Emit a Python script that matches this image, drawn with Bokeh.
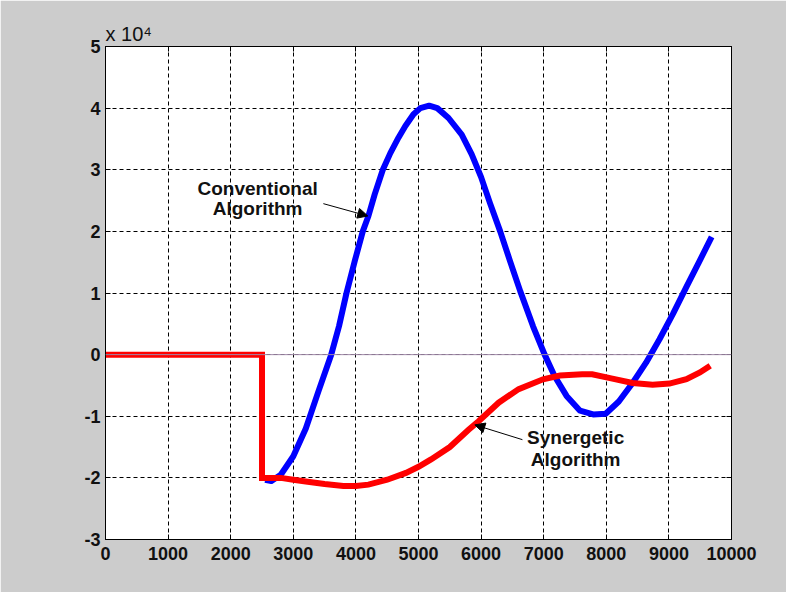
from bokeh.plotting import figure
from bokeh.models import Label, Arrow, NormalHead, LinearAxis, Range1d, FixedTicker, CustomJSTickFormatter, Span, Title
from bokeh.embed import file_html
from bokeh.resources import INLINE

# Data (values in units of 1e4)
blue_x = [2550, 2650, 2800, 3000, 3200, 3400, 3600, 3730, 3850, 3985, 4110, 4200, 4300, 4430,
          4550, 4680, 4790, 4920, 5030, 5170, 5300, 5480, 5690, 5850, 6000, 6145, 6305, 6465,
          6625, 6830, 7015, 7175, 7365, 7580, 7790, 7990, 8200, 8420, 8635, 8850, 9065, 9280,
          9495, 9683]
blue_y = [-2.03, -2.05, -1.95, -1.65, -1.2, -0.6, -0.02, 0.46, 1.0, 1.53, 2.0, 2.25, 2.6, 3.0,
          3.27, 3.52, 3.71, 3.9, 4.0, 4.04, 4.0, 3.84, 3.57, 3.25, 2.88, 2.45, 2.0, 1.51,
          1.03, 0.46, 0.0, -0.35, -0.67, -0.91, -0.97, -0.96, -0.76, -0.46, -0.13, 0.25, 0.66, 1.1,
          1.53, 1.91]

red_x = [0, 2500, 2500, 2800, 3000, 3200, 3500, 3800, 4000, 4200, 4500, 4800, 5000, 5200, 5500,
         5800, 5960, 6280, 6600, 6990, 7260, 7615, 7775, 8097, 8420, 8740, 9010, 9280, 9495, 9660]
red_y = [0, 0, -2.0, -2.0, -2.03, -2.06, -2.1, -2.13, -2.13, -2.11, -2.03, -1.92, -1.82, -1.7,
         -1.5, -1.22, -1.08, -0.78, -0.56, -0.40, -0.34, -0.32, -0.32, -0.39, -0.46, -0.49, -0.47,
         -0.40, -0.29, -0.18]

x_ticks = [0, 1000, 2000, 3000, 4000, 5000, 6000, 7000, 8000, 9000, 10000]
y_ticks = [-3, -2, -1, 0, 1, 2, 3, 4, 5]

FONT = "Liberation Sans"
BG = "#cccccc"
TXT = "#111111"

W, H = 786, 592
FL, FT, FW, FH = 105, 46, 626, 493

p = figure(width=W, height=H, output_backend="svg", toolbar_location=None,
           x_range=Range1d(0, 10000), y_range=Range1d(-3, 5),
           min_border_left=FL, min_border_top=FT, min_border_right=W - FL - FW,
           min_border_bottom=H - FT - FH)
p.border_fill_color = BG
p.background_fill_color = "white"
p.outline_line_color = "black"
p.outline_line_width = 1

# exponent shown as the title, at the top-left corner of the axes
p.title = Title(text="x 10\u2074", align="left", text_font=FONT, text_font_size="20px",
                text_font_style="normal", text_color=TXT, standoff=3)

fmt = CustomJSTickFormatter(code="return tick.toString();")
for ax in (p.xaxis[0], p.yaxis[0]):
    ax.major_tick_in = 5
    ax.major_tick_out = 0
    ax.minor_tick_line_color = None
    ax.axis_line_color = "black"
    ax.major_tick_line_color = "black"
    ax.major_label_text_font = FONT
    ax.major_label_text_font_size = "18px"
    ax.major_label_text_font_style = "bold"
    ax.major_label_text_color = TXT
    ax.formatter = fmt
p.xaxis[0].ticker = FixedTicker(ticks=x_ticks)
p.yaxis[0].ticker = FixedTicker(ticks=y_ticks)
p.xaxis[0].major_label_standoff = 7
p.yaxis[0].major_label_standoff = 5

for loc, tk in (("above", x_ticks), ("right", y_ticks)):
    ax = LinearAxis(ticker=FixedTicker(ticks=tk), major_label_text_font_size="0px",
                    major_tick_in=5, major_tick_out=0, minor_tick_line_color=None,
                    major_label_text_color=None, axis_line_color="black",
                    major_label_standoff=0)
    p.add_layout(ax, loc)

p.xgrid.ticker = FixedTicker(ticks=x_ticks)
p.ygrid.ticker = FixedTicker(ticks=y_ticks)
for g in (p.xgrid, p.ygrid):
    g.grid_line_color = "black"
    g.grid_line_dash = "4 3"
    g.grid_line_width = 1

p.add_layout(Span(location=0, dimension="width", line_color="#a08aa8", line_width=1))

p.line(blue_x, blue_y, line_color="#0000ff", line_width=6, line_join="round")
p.line(red_x, red_y, line_color="#ff0000", line_width=6, line_join="miter")

# annotations
for txt, yy in (("Conventional", 2.70), ("Algorithm", 2.37)):
    p.add_layout(Label(x=2430, y=yy, text=txt, text_font=FONT, text_font_size="19px",
                       text_font_style="bold", text_align="center", text_baseline="middle",
                       text_color=TXT))
for txt, yy in (("Synergetic", -1.35), ("Algorithm", -1.70)):
    p.add_layout(Label(x=7510, y=yy, text=txt, text_font=FONT, text_font_size="19px",
                       text_font_style="bold", text_align="center", text_baseline="middle",
                       text_color=TXT))

p.add_layout(Arrow(x_start=3480, y_start=2.45, x_end=4190, y_end=2.25, line_width=1,
                   end=NormalHead(size=10, fill_color="black", line_color="black")))
p.add_layout(Arrow(x_start=6660, y_start=-1.38, x_end=5900, y_end=-1.14, line_width=1,
                   end=NormalHead(size=10, fill_color="black", line_color="black")))

open("out.html", "w").write(file_html(p, INLINE))
